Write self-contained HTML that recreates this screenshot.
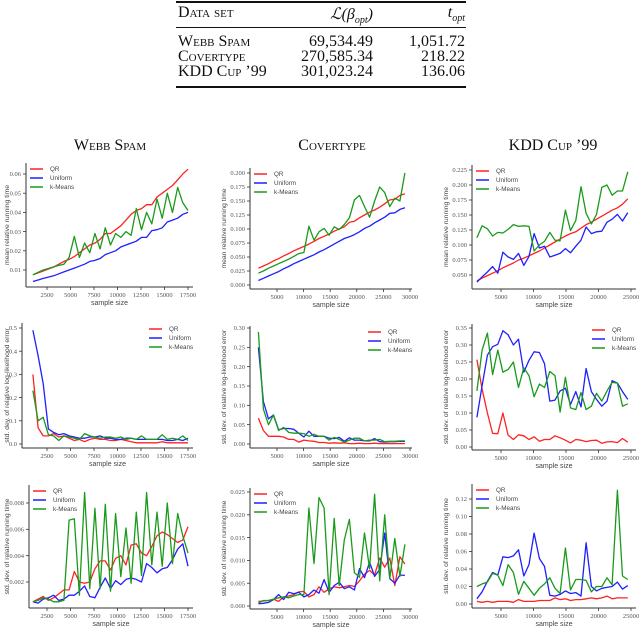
<!DOCTYPE html>
<html><head><meta charset="utf-8">
<style>
body{margin:0;background:#fff;width:640px;height:629px;position:relative;overflow:hidden;font-family:"Liberation Serif",serif;}
.abs{position:absolute;white-space:nowrap;}
.tbl{font-size:16px;color:#111;}
.sc{font-variant:small-caps;}
.title{font-size:16px;font-variant:small-caps;color:#111;transform:translateX(-50%);}
svg{position:absolute;left:0;top:0;}
</style></head><body>
<div class="abs" style="left:176px;top:1px;width:290px;height:2px;background:#111"></div>
<div class="abs" style="left:176px;top:27px;width:290px;height:1px;background:#111"></div>
<div class="abs" style="left:176px;top:86px;width:290px;height:2px;background:#111"></div>
<div class="abs tbl sc" style="left:178px;top:4px">Data set</div>
<div class="abs tbl" style="right:267px;top:4px;font-style:italic">ℒ(β<sub style="font-size:10px">opt</sub>)</div>
<div class="abs tbl" style="right:175px;top:4px;font-style:italic">t<sub style="font-size:10px">opt</sub></div>
<div class="abs tbl sc" style="left:178px;top:33px">Webb Spam</div>
<div class="abs tbl sc" style="left:178px;top:48px">Covertype</div>
<div class="abs tbl sc" style="left:178px;top:63px">KDD Cup ’99</div>
<div class="abs tbl" style="right:267px;top:33px">69,534.49</div>
<div class="abs tbl" style="right:267px;top:48px">270,585.34</div>
<div class="abs tbl" style="right:267px;top:63px">301,023.24</div>
<div class="abs tbl" style="right:175px;top:33px">1,051.72</div>
<div class="abs tbl" style="right:175px;top:48px">218.22</div>
<div class="abs tbl" style="right:175px;top:63px">136.06</div>
<div class="abs title" style="left:110px;top:137px">Webb Spam</div>
<div class="abs title" style="left:332px;top:137px">Covertype</div>
<div class="abs title" style="left:553px;top:137px">KDD Cup ’99</div>
<svg id="chart" width="640" height="629"></svg>
<script>
const samplesWebb=[1000,1550,2100,2650,3200,3750,4300,4850,5400,5950,6500,7050,7600,8150,8700,9250,9800,10350,10900,11450,12000,12550,13100,13650,14200,14750,15300,15850,16400,16950,17500];
const samplesCover=[1500,2450,3400,4350,5300,6250,7200,8150,9100,10050,11000,11950,12900,13850,14800,15750,16700,17650,18600,19550,20500,21450,22400,23350,24300,25250,26200,27150,28100,29050];
const samplesKdd=[1300,2100,2900,3700,4500,5300,6100,6900,7700,8500,9300,10100,10900,11700,12500,13300,14100,14900,15700,16500,17300,18100,18900,19700,20500,21300,22100,22900,23700,24500];

const webbTimeQR=[0.0075,0.0085,0.0095,0.0105,0.0115,0.013,0.0145,0.0155,0.017,0.019,0.021,0.023,0.024,0.026,0.029,0.029,0.031,0.033,0.036,0.039,0.041,0.042,0.044,0.044,0.048,0.050,0.052,0.054,0.057,0.060,0.0625];
const webbTimeUni=[0.004,0.0048,0.0056,0.0063,0.007,0.008,0.009,0.010,0.011,0.012,0.013,0.0145,0.015,0.016,0.018,0.019,0.020,0.022,0.023,0.024,0.025,0.027,0.027,0.0305,0.031,0.032,0.035,0.036,0.037,0.039,0.040];
const webbTimeKM=[0.0075,0.0088,0.0100,0.0108,0.0116,0.0124,0.0130,0.0165,0.0275,0.0165,0.024,0.019,0.029,0.021,0.032,0.023,0.029,0.027,0.030,0.028,0.042,0.031,0.040,0.034,0.047,0.037,0.050,0.040,0.053,0.045,0.041];
const webbErrQR=[0.30,0.07,0.035,0.035,0.045,0.03,0.035,0.025,0.015,0.02,0.01,0.02,0.025,0.02,0.02,0.015,0.015,0.02,0.015,0.01,0.005,0.005,0.005,0.005,0.005,0.01,0.005,0.005,0.005,0.005,0.005];
const webbErrUni=[0.49,0.38,0.26,0.065,0.05,0.04,0.045,0.035,0.03,0.025,0.025,0.03,0.03,0.035,0.025,0.025,0.02,0.02,0.025,0.025,0.02,0.02,0.02,0.02,0.02,0.02,0.015,0.015,0.02,0.015,0.025];
const webbErrKM=[0.23,0.10,0.115,0.04,0.035,0.015,0.035,0.03,0.025,0.02,0.045,0.035,0.03,0.025,0.03,0.03,0.025,0.03,0.02,0.025,0.02,0.035,0.02,0.02,0.02,0.04,0.02,0.025,0.02,0.035,0.015];
const webbSdQR=[0.0005,0.0007,0.0009,0.0006,0.0008,0.0011,0.0014,0.0014,0.0028,0.002,0.0019,0.002,0.003,0.0036,0.0036,0.0029,0.0038,0.004,0.0033,0.0048,0.0049,0.0042,0.004,0.0047,0.0055,0.0058,0.0056,0.0053,0.005,0.0052,0.0062];
const webbSdUni=[0.0005,0.0004,0.0007,0.0008,0.001,0.0006,0.0007,0.001,0.001,0.0013,0.0017,0.0009,0.0008,0.0016,0.0023,0.0015,0.0021,0.0018,0.0022,0.0023,0.0022,0.002,0.0034,0.0031,0.0027,0.003,0.0031,0.0037,0.0045,0.0049,0.0032];
const webbSdKM=[0.0005,0.0006,0.0008,0.0007,0.0005,0.0005,0.0006,0.0067,0.0068,0.001,0.0088,0.0015,0.0076,0.0015,0.0079,0.0013,0.0072,0.0024,0.0061,0.0019,0.0073,0.0025,0.0088,0.0033,0.0073,0.0032,0.008,0.0034,0.0072,0.0055,0.0042];

const coverTimeQR=[0.030,0.034,0.038,0.043,0.047,0.052,0.056,0.061,0.065,0.069,0.073,0.078,0.083,0.087,0.091,0.096,0.100,0.104,0.112,0.114,0.120,0.125,0.130,0.134,0.139,0.145,0.152,0.153,0.160,0.163];
const coverTimeUni=[0.008,0.012,0.016,0.020,0.024,0.029,0.033,0.038,0.042,0.046,0.050,0.054,0.059,0.063,0.068,0.073,0.078,0.083,0.086,0.090,0.095,0.101,0.105,0.111,0.116,0.121,0.128,0.129,0.135,0.138];
const coverTimeKM=[0.021,0.025,0.030,0.034,0.038,0.042,0.046,0.051,0.056,0.058,0.105,0.080,0.095,0.101,0.089,0.104,0.099,0.108,0.120,0.152,0.160,0.140,0.121,0.150,0.175,0.165,0.140,0.155,0.150,0.200];
const coverErrQR=[0.067,0.035,0.02,0.02,0.02,0.018,0.012,0.012,0.005,0.01,0.008,0.007,0.004,0.004,0.002,0.003,0.002,0.003,0.001,0.001,0.002,0.001,0.001,0.002,0.001,0.001,0.001,0.001,0.001,0.001];
const coverErrUni=[0.25,0.11,0.065,0.075,0.037,0.04,0.04,0.038,0.028,0.018,0.033,0.02,0.02,0.02,0.015,0.014,0.017,0.007,0.016,0.01,0.01,0.008,0.008,0.014,0.006,0.005,0.006,0.006,0.007,0.007];
const coverErrKM=[0.29,0.09,0.05,0.075,0.035,0.043,0.03,0.028,0.028,0.027,0.02,0.025,0.02,0.02,0.01,0.017,0.012,0.005,0.01,0.015,0.015,0.008,0.01,0.01,0.012,0.006,0.007,0.007,0.008,0.008];
const coverSdQR=[0.0010,0.0011,0.0012,0.0015,0.0010,0.0020,0.0022,0.0025,0.0031,0.0032,0.0020,0.0025,0.0042,0.0030,0.0038,0.0042,0.0040,0.0042,0.0045,0.0043,0.0055,0.0070,0.0078,0.0068,0.0105,0.0085,0.0105,0.0045,0.0108,0.0092];
const coverSdUni=[0.0005,0.0006,0.0008,0.0014,0.0025,0.0014,0.0030,0.0027,0.0030,0.0020,0.0025,0.0035,0.0028,0.0058,0.0030,0.0045,0.0052,0.0038,0.0042,0.0035,0.0082,0.0062,0.0096,0.0065,0.0080,0.0160,0.0060,0.0050,0.0068,0.0067];
const coverSdKM=[0.0007,0.0012,0.0012,0.0015,0.0018,0.0020,0.0018,0.0022,0.0025,0.0025,0.0215,0.0093,0.0238,0.0215,0.0025,0.0192,0.0045,0.0145,0.0190,0.0073,0.0063,0.0160,0.0082,0.0245,0.0055,0.0200,0.0060,0.0148,0.0065,0.0135];

const kddTimeQR=[0.040,0.045,0.049,0.053,0.057,0.062,0.066,0.070,0.075,0.078,0.082,0.086,0.090,0.095,0.100,0.105,0.110,0.115,0.119,0.122,0.128,0.134,0.138,0.143,0.148,0.153,0.158,0.162,0.168,0.177];
const kddTimeUni=[0.038,0.047,0.055,0.064,0.053,0.088,0.080,0.076,0.086,0.066,0.081,0.119,0.095,0.098,0.080,0.083,0.086,0.094,0.087,0.098,0.108,0.130,0.119,0.122,0.123,0.138,0.143,0.151,0.140,0.154];
const kddTimeKM=[0.112,0.132,0.127,0.115,0.121,0.120,0.126,0.134,0.131,0.132,0.131,0.090,0.100,0.106,0.121,0.108,0.107,0.158,0.124,0.141,0.197,0.153,0.135,0.151,0.196,0.200,0.183,0.190,0.190,0.222];
const kddErrQR=[0.257,0.170,0.100,0.040,0.039,0.100,0.035,0.022,0.036,0.033,0.022,0.030,0.017,0.022,0.022,0.033,0.027,0.020,0.012,0.022,0.020,0.016,0.019,0.020,0.011,0.015,0.016,0.013,0.025,0.014];
const kddErrUni=[0.087,0.180,0.270,0.295,0.302,0.342,0.330,0.300,0.317,0.220,0.255,0.280,0.278,0.245,0.135,0.138,0.165,0.173,0.125,0.163,0.118,0.231,0.163,0.140,0.120,0.135,0.195,0.188,0.163,0.140];
const kddErrKM=[0.165,0.285,0.335,0.213,0.285,0.220,0.228,0.250,0.175,0.233,0.210,0.148,0.185,0.175,0.222,0.210,0.103,0.205,0.115,0.110,0.160,0.110,0.120,0.158,0.135,0.165,0.190,0.188,0.120,0.127];
const kddSdQR=[0.003,0.002,0.003,0.002,0.003,0.003,0.003,0.002,0.005,0.003,0.003,0.003,0.004,0.004,0.004,0.007,0.005,0.006,0.004,0.005,0.005,0.006,0.007,0.006,0.007,0.009,0.006,0.007,0.007,0.007];
const kddSdUni=[0.006,0.014,0.026,0.036,0.033,0.054,0.053,0.055,0.062,0.032,0.045,0.081,0.052,0.043,0.010,0.009,0.011,0.015,0.012,0.013,0.009,0.070,0.020,0.015,0.018,0.019,0.020,0.025,0.017,0.021];
const kddSdKM=[0.020,0.023,0.025,0.035,0.033,0.021,0.045,0.036,0.011,0.026,0.018,0.010,0.018,0.023,0.030,0.018,0.012,0.064,0.016,0.028,0.028,0.027,0.014,0.020,0.020,0.030,0.022,0.130,0.032,0.028];

const xTicksWebb=[2500,5000,7500,10000,12500,15000,17500];
const xTicksCover=[5000,10000,15000,20000,25000,30000];
const xTicksKdd=[5000,10000,15000,20000,25000];
const yTicksWebbTime=[0.01,0.02,0.03,0.04,0.05,0.06];
const yTicksWebbErr=[0.0,0.1,0.2,0.3,0.4,0.5];
const yTicksWebbSd=[0.002,0.004,0.006,0.008];
const yTicksCoverTime=[0,0.025,0.05,0.075,0.1,0.125,0.15,0.175,0.2];
const yTicksCoverErr=[0,0.05,0.1,0.15,0.2,0.25,0.3];
const yTicksCoverSd=[0,0.005,0.01,0.015,0.02,0.025];
const yTicksKddTime=[0.05,0.075,0.1,0.125,0.15,0.175,0.2,0.225];
const yTicksKddErr=[0,0.05,0.1,0.15,0.2,0.25,0.3,0.35];
const yTicksKddSd=[0,0.02,0.04,0.06,0.08,0.1,0.12];
const seriesNames=["QR","Uniform","k-Means"];
const seriesColors=["#ff2222","#1f1fff","#1a9a1a"];

const NS="http://www.w3.org/2000/svg";
const svg=document.getElementById('chart');
function mk(tag,attrs,parent){const e=document.createElementNS(NS,tag);for(const k in attrs)e.setAttribute(k,attrs[k]);(parent||svg).appendChild(e);return e;}
function lin(d0,d1,p0,p1){return v=>p0+(v-d0)*(p1-p0)/(d1-d0);}

const cols=[
 {key:'webb',samples:samplesWebb,xt:xTicksWebb,xa:[2500,17500,47,188],right:193,labX:5},
 {key:'cover',samples:samplesCover,xt:xTicksCover,xa:[5000,30000,277,410],right:412,labX:222},
 {key:'kdd',samples:samplesKdd,xt:xTicksKdd,xa:[5000,25000,501,631],right:636,labX:444}
];
const panels=[
 {c:0,left:26,top:163,bottom:287,ya:[0.01,0.06,270,174],yt:yTicksWebbTime,dec:2,data:[webbTimeQR,webbTimeUni,webbTimeKM],ylab:'mean relative running time',leg:'left'},
 {c:0,left:22,top:323,bottom:448,ya:[0,0.5,444,328],yt:yTicksWebbErr,dec:1,data:[webbErrQR,webbErrUni,webbErrKM],ylab:'std. dev. of relative log-likelihood error',leg:'right'},
 {c:0,left:29,top:485,bottom:608,ya:[0.002,0.008,582,503],yt:yTicksWebbSd,dec:3,data:[webbSdQR,webbSdUni,webbSdKM],ylab:'std. dev. of relative running time',leg:'left'},
 {c:1,left:250,top:168,bottom:289,ya:[0,0.2,285,173],yt:yTicksCoverTime,dec:3,data:[coverTimeQR,coverTimeUni,coverTimeKM],ylab:'mean relative running time',leg:'left'},
 {c:1,left:250,top:326,bottom:448,ya:[0,0.3,444,328],yt:yTicksCoverErr,dec:2,data:[coverErrQR,coverErrUni,coverErrKM],ylab:'std. dev. of relative log-likelihood error',leg:'right'},
 {c:1,left:250,top:488,bottom:609,ya:[0,0.025,606,492],yt:yTicksCoverSd,dec:3,data:[coverSdQR,coverSdUni,coverSdKM],ylab:'std. dev. of relative running time',leg:'left'},
 {c:2,left:472,top:165,bottom:289,ya:[0.05,0.225,275,170],yt:yTicksKddTime,dec:3,data:[kddTimeQR,kddTimeUni,kddTimeKM],ylab:'mean relative running time',leg:'left'},
 {c:2,left:472,top:324,bottom:450,ya:[0,0.35,447,328],yt:yTicksKddErr,dec:2,data:[kddErrQR,kddErrUni,kddErrKM],ylab:'std. dev. of relative log-likelihood error',leg:'right'},
 {c:2,left:472,top:484,bottom:608,ya:[0,0.12,604,499],yt:yTicksKddSd,dec:2,data:[kddSdQR,kddSdUni,kddSdKM],ylab:'std. dev. of relative running time',leg:'left'}
];
const ax="#333",tc="#555";
panels.forEach((p,pi)=>{
 const col=cols[p.c];
 const xs=lin(...col.xa), ys=lin(...p.ya);
 const g=mk('g',{});
 
 
 mk('line',{x1:p.left,y1:p.top,x2:p.left,y2:p.bottom,stroke:ax,'stroke-width':1},g);
 mk('line',{x1:p.left,y1:p.bottom,x2:col.right,y2:p.bottom,stroke:ax,'stroke-width':1},g);
 col.xt.forEach(v=>{const x=xs(v);
  mk('line',{x1:x,y1:p.bottom,x2:x,y2:p.bottom+3,stroke:ax,'stroke-width':0.8},g);
  const t=mk('text',{x:x,y:p.bottom+10,'text-anchor':'middle','font-size':6.5,fill:tc,'font-family':'Liberation Serif, serif'},g);t.textContent=v;});
 p.yt.forEach(v=>{const y=ys(v);
  mk('line',{x1:p.left-3,y1:y,x2:p.left,y2:y,stroke:ax,'stroke-width':0.8},g);
  const t=mk('text',{x:p.left-5,y:y+2.2,'text-anchor':'end','font-size':6.5,fill:tc,'font-family':'Liberation Serif, serif'},g);t.textContent=v.toFixed(p.dec);});
 const xl=mk('text',{x:(p.left+col.right)/2,y:p.bottom+18,'text-anchor':'middle','font-size':7,fill:'#444','font-family':'Liberation Sans, sans-serif'},g);xl.textContent='sample size';
 
 
 const yc=(p.top+p.bottom)/2;
 const yl=mk('text',{x:col.labX,y:yc,transform:`rotate(-90 ${col.labX} ${yc})`,'text-anchor':'middle','font-size':6.8,fill:'#444','font-family':'Liberation Sans, sans-serif','dominant-baseline':'hanging'},g);yl.textContent=p.ylab;
 
 
 p.data.forEach((arr,si)=>{
  const pts=arr.map((v,i)=>xs(col.samples[i]).toFixed(1)+','+ys(v).toFixed(1)).join(' ');
  const pl=mk('polyline',{points:pts,fill:'none',stroke:seriesColors[si],'stroke-width':1.3,'stroke-linejoin':'round'},g);
  
  
 });
 const lx=p.leg==='left'?p.left+4:col.right-44, ly=p.top+6;
 seriesNames.forEach((n,si)=>{
  const yy=ly+si*9;
  const le=mk('g',{},g);
  
  
  mk('line',{x1:lx,y1:yy,x2:lx+13,y2:yy,stroke:seriesColors[si],'stroke-width':1.5},le);
  const t=mk('text',{x:lx+20,y:yy+2.2,'font-size':6.3,fill:'#444','font-family':'Liberation Sans, sans-serif'},le);t.textContent=n;
 });
});
</script>
</body></html>
